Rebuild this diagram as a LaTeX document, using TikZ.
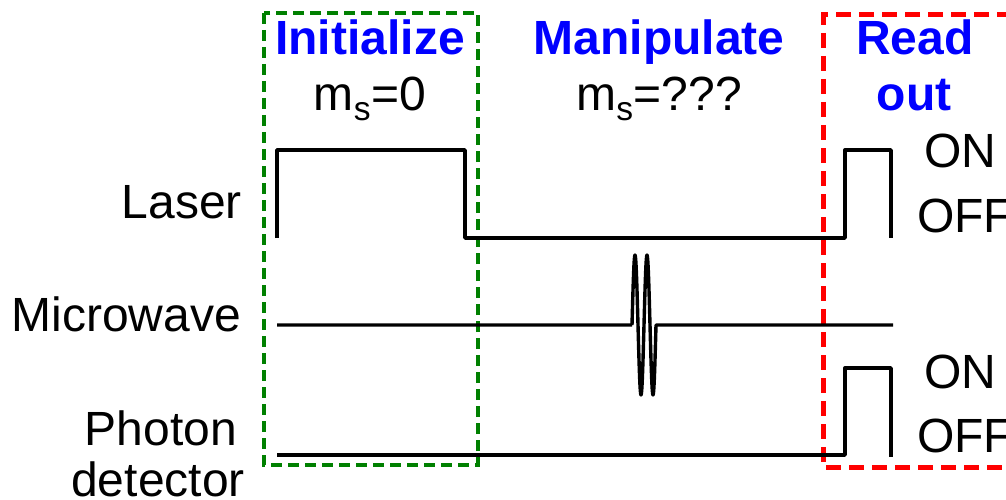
\documentclass[tikz,border=0pt]{standalone}
\usepackage{fontspec}
\setmainfont{Liberation Sans}
\definecolor{nvblue}{RGB}{0,0,255}
\definecolor{nvgreen}{RGB}{0,128,0}
\definecolor{nvred}{RGB}{255,0,0}
\usetikzlibrary{positioning}

\begin{document}
\begin{tikzpicture}[
  x=1pt,y=-1pt,
  font=\fontsize{48}{52}\selectfont,
  phase/.style={inner sep=0pt,anchor=base,text=nvblue,font=\fontsize{48}{52}\selectfont\bfseries},
  state/.style={inner sep=0pt,anchor=base},
  chan/.style={inner sep=0pt,anchor=base east},
  lvl/.style={inner sep=0pt,anchor=base west},
  trace/.style={draw=black,line width=3.4pt,line join=round},
  initbox/.style={draw=nvgreen,line width=4pt,dash pattern=on 11pt off 6pt},
  readbox/.style={draw=nvred,line width=5pt,dash pattern=on 15pt off 8pt}
]
\useasboundingbox (0,0) rectangle (1006,500);
\draw[initbox] (264,13) rectangle (478,465);
\draw[readbox] (1012,15) -- (823,15) -- (823,467) -- (1012,467);
\node[phase] (init) at (370,55) {Initialize};
\node[state] (ms0) at (370,111) {m\textsubscript{s}=0};
\node[phase] (manip) at (659,55) {Manipulate};
\node[state] (msq) at (659,111) {m\textsubscript{s}=???};
\node[phase] (read) at (915,55) {Read};
\node[phase] (out) at (914,111) {out};
\node[chan] (laser) at (242,218) {Laser};
\node[chan] (mw) at (241,331) {Microwave};
\node[state] (photon) at (161,445) {Photon};
\node[state] (detector) at (158,496) {detector};
\node[lvl] (on1) at (924,167) {ON};
\node[lvl] (off1) at (917,232) {OFF};
\node[lvl] (on2) at (924,388) {ON};
\node[lvl] (off2) at (917,452) {OFF};
% laser
\draw[trace] (277,238) -- (277,150) -- (465,150) -- (465,238) -- (845,238)
  -- (845,150) -- (891,150) -- (891,238);
% microwave
\draw[trace] (277,325) -- (632,325)
  plot[domain=0:24,samples=97,smooth] ({632+\x},{325-70*sin(30*\x)})
  -- (893,325);
% photon detector
\draw[trace] (277,455) -- (845,455) -- (845,368) -- (891,368) -- (891,457);
\end{tikzpicture}
\end{document}
